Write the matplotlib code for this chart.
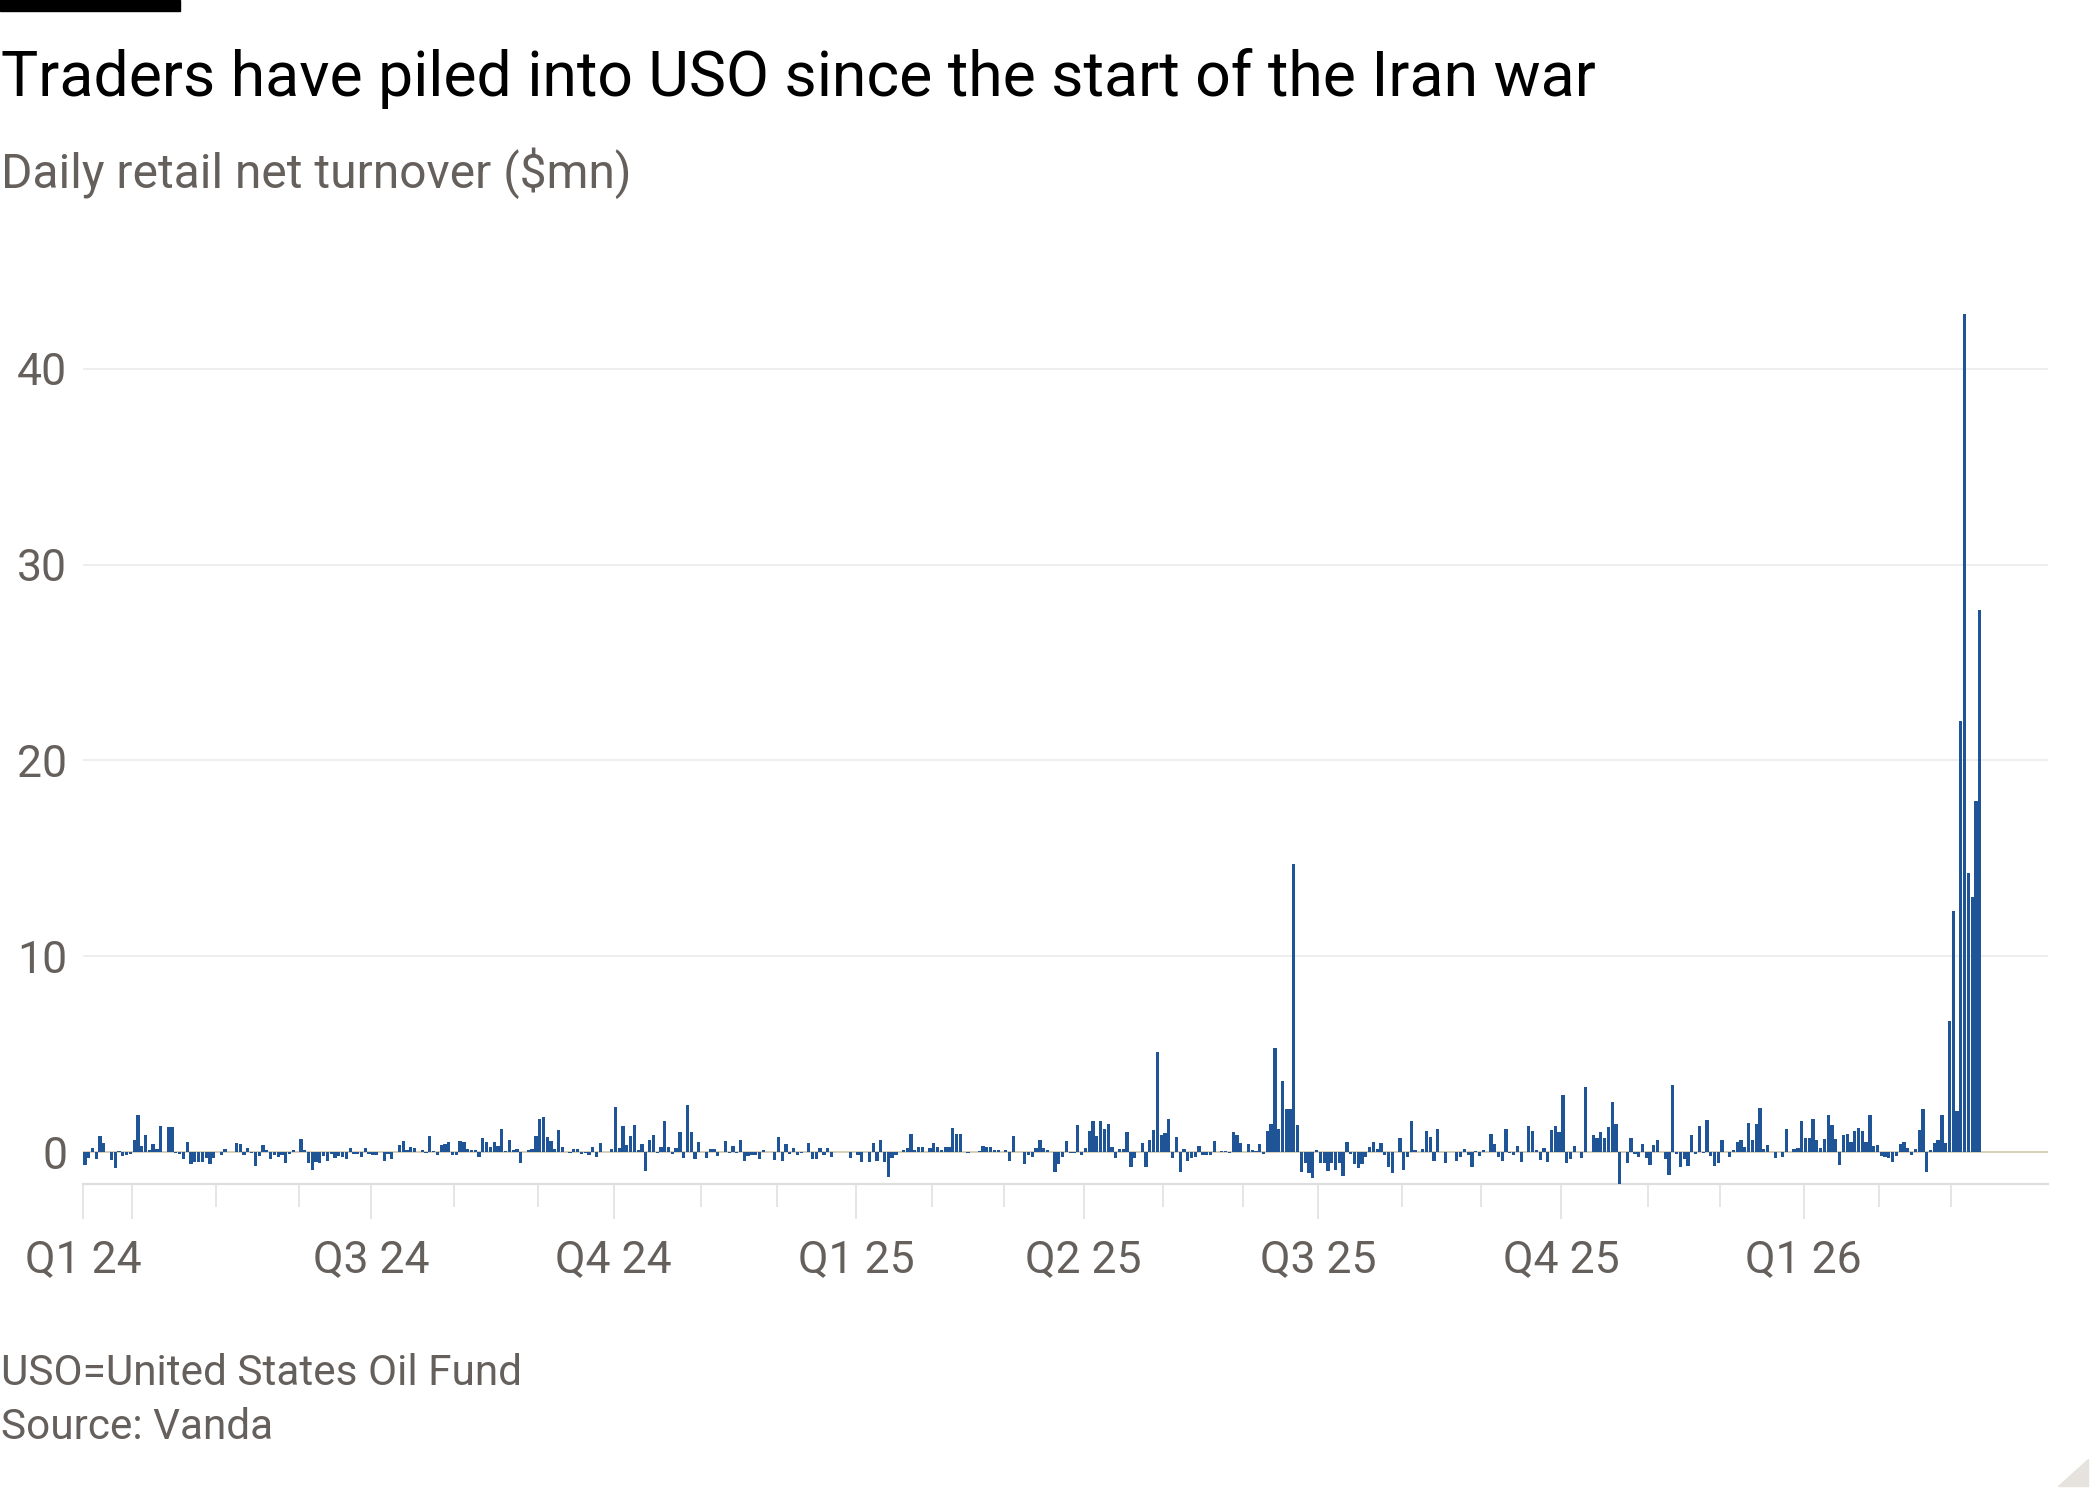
#!/usr/bin/env python
# -*- coding: utf-8 -*-

"""USO daily retail net turnover, FT style bar chart."""

import pandas as pd
import matplotlib
matplotlib.use('Agg')
import matplotlib.pyplot as plt
from matplotlib.patches import Rectangle, Polygon
from matplotlib.transforms import blended_transform_factory

# trading days shown on the chart
START = '2024-03-12'
END = '2026-03-11'
HOLIDAYS = ['2024-03-29', '2024-05-27', '2024-06-19', '2024-07-04',
            '2024-09-02', '2024-11-28', '2024-12-25',
            '2025-01-01', '2025-01-09', '2025-01-20', '2025-02-17',
            '2025-04-18', '2025-05-26', '2025-06-19', '2025-07-04',
            '2025-09-01', '2025-11-27', '2025-12-25',
            '2026-01-01', '2026-01-19', '2026-02-16']

# daily retail net turnover ($mn), one list per quarter
q1_24 = [-0.65, -0.3, 0.2, -0.35, 0.8, 0.45, 0.0, -0.4, -0.8, 0.05, -0.2,
         -0.15, -0.1]
q2_24 = [0.6, 1.9, 0.3, 0.85, 0.1, 0.4, 0.15, 1.35, 0.0, 1.3, 1.3, -0.05,
         -0.1, -0.35, 0.5, -0.6, -0.5, -0.5, -0.5, -0.3, -0.6, -0.3,
         0.0, -0.15, 0.15, 0.0, 0.0, 0.45, 0.4, -0.15, 0.2, -0.05, -0.7,
         -0.2, 0.35, 0.1, -0.35, -0.15, -0.25, -0.15, -0.55, -0.1, 0.1, 0.0,
         0.65, 0.1, -0.55, -0.9, -0.5, -0.55, -0.2, -0.45, -0.1, -0.3, -0.2,
         -0.25, -0.35, 0.2, -0.1, -0.1, -0.25, 0.2, -0.1]
q3_24 = [-0.15, -0.15, 0.0, -0.45, -0.1, -0.35, 0.0, 0.35, 0.55, 0.1, 0.25,
         0.2, 0.0, 0.1, -0.05, 0.8, 0.05, -0.15, 0.35, 0.4, 0.5, -0.15,
         -0.15, 0.55, 0.5, 0.15, 0.1, 0.1, -0.25, 0.7, 0.5, 0.25, 0.5, 0.3,
         1.15, 0.05, 0.6, 0.1, 0.15, -0.55, 0.0, 0.1, 0.15, 0.8,
         1.7, 1.8, 0.75, 0.55, 0.15, 1.1, 0.25, 0.0, -0.05, 0.15, 0.15, -0.1,
         -0.05, -0.15, 0.25, -0.25, 0.45, 0.0, 0.0, 0.15]
q4_24 = [2.3, 0.2, 1.35, 0.35, 0.8, 1.4, 0.1, 0.4, -0.95, 0.6, 0.85, -0.05,
         0.25, 1.6, 0.25, -0.1, 0.2, 1.0, -0.3, 2.4, 1.0, -0.35, 0.5,
         0.0, -0.3, 0.15, 0.15, -0.2, 0.0, 0.55, -0.05, 0.3, -0.05, 0.6,
         -0.45, -0.2, -0.15, -0.15, -0.35, 0.1, 0.0, 0.0, -0.4,
         0.75, -0.45, 0.4, -0.1, 0.2, -0.15, -0.05, 0.0, 0.45, -0.35, -0.35,
         0.2, -0.15, 0.2, -0.25, 0.0, 0.0, 0.0, 0.0, -0.3, 0.0]
q1_25 = [-0.15, -0.5, 0.0, -0.5, 0.45, -0.45, 0.6, -0.5, -1.3, -0.3, -0.15,
         0.0, 0.1, 0.2, 0.9, 0.1, 0.25, 0.25, 0.0, 0.2,
         0.45, 0.25, 0.1, 0.25, 0.25, 1.25, 0.9, 0.9, 0.0, -0.05, 0.0, 0.0,
         0.05, 0.3, 0.25, 0.25, 0.1, 0.1, 0.0,
         0.1, -0.45, 0.8, 0.0, 0.0, -0.6, -0.15, -0.25, 0.2, 0.6, 0.2, 0.1,
         0.0, -1.0, -0.6, -0.25, 0.55, -0.05, -0.05, 1.4, -0.15]
q2_25 = [0.2, 1.05, 1.6, 0.8, 1.6, 1.2, 1.45, 0.25, -0.3, 0.15, 0.15, 1.0,
         -0.75, -0.3, 0.0, 0.45, -0.75, 0.6, 1.1, 5.1, 0.85,
         0.95, 1.7, -0.3, 0.75, -1.0, 0.15, -0.45, -0.3, -0.25, 0.3, -0.15,
         -0.15, -0.15, 0.55, 0.0, 0.05, 0.05, -0.05, 1.0, 0.85, 0.45,
         0.0, 0.4, 0.1, 0.05, 0.4, -0.1, 1.05, 1.45, 5.3, 1.2, 3.65, 2.2, 2.2,
         14.7, 1.4, -1.0, -0.55, -1.05, -1.35, 0.1]
q3_25 = [-0.55, -0.55, -0.95, -0.55, -0.9, -0.55, -1.25, 0.5, -0.1, -0.6,
         -0.8, -0.6, -0.25, 0.25, 0.5, 0.15, 0.45, -0.15, -0.75, -1.05, 0.0,
         0.7,
         -0.9, -0.25, 1.6, 0.1, 0.0, 0.15, 1.05, 0.75, -0.45, 1.15, 0.0,
         -0.55, 0.0, 0.0, -0.45, -0.25, 0.15, -0.15, -0.75, 0.05, -0.2,
         0.1, 0.0, 0.9, 0.4, -0.25, -0.45, 1.15, -0.05, -0.15, 0.3, -0.5, 0.0,
         1.35, 1.05, 0.1, -0.4, 0.2, -0.5, 1.1, 1.35, 1.0]
q4_25 = [2.9, -0.55, -0.35, 0.3, 0.0, -0.3, 3.3, 0.0, 0.85, 0.7, 1.0, 0.7,
         1.3, 2.55, 1.45, -1.65, 0.0, -0.55, 0.7, -0.1, -0.25, 0.4, -0.3,
         -0.65, 0.35, 0.6, 0.0, -0.35, -1.15, 3.4, -0.1, -0.75, -0.35, -0.7,
         0.85, -0.1, 1.35, -0.05, 1.65, -0.2, -0.7, -0.55,
         0.6, 0.0, -0.25, 0.1, 0.5, 0.6, 0.25, 1.5, 0.6, 1.45, 2.25, 0.15,
         0.35, 0.0, -0.3, 0.0, -0.25, 1.2, 0.0, 0.15, 0.2, 1.6]
q1_26 = [0.7, 0.7, 1.7, 0.6, 0.2, 0.65, 1.9, 1.4, 0.65, -0.65, 0.85, 0.9,
         0.5, 1.05, 1.25, 1.05, 0.5, 1.9, 0.3, 0.35,
         -0.2, -0.25, -0.3, -0.5, -0.2, 0.4, 0.5, 0.2, -0.15, 0.15, 1.1, 2.2,
         -1.0, 0.1, 0.45, 0.6, 1.9, 0.45, 6.7,
         12.3, 2.1, 22.0, 42.8, 14.25, 13.0, 17.9, 27.7]

y_ticks = [0, 10, 20, 30, 40]
quarter_labels = ['Q1 24', '', 'Q3 24', 'Q4 24', 'Q1 25', 'Q2 25',
                  'Q3 25', 'Q4 25', 'Q1 26']

TITLE = 'Traders have piled into USO since the start of the Iran war'
SUBTITLE = 'Daily retail net turnover (\\$mn)'
NOTES = ['USO=United States Oil Fund', 'Source: Vanda']

BAR = '#1f5597'
GREY = '#66605c'
LIGHT = '#dedede'


def main():
    plt.rcParams['font.family'] = ['Roboto', 'DejaVu Sans']

    dates = pd.bdate_range(START, END, freq='C', holidays=HOLIDAYS)
    values = (q1_24 + q2_24 + q3_24 + q4_24 + q1_25 + q2_25 + q3_25
              + q4_25 + q1_26)
    n = min(len(dates), len(values))
    dates = dates[:n]
    values = values[:n]
    x = list(range(n))

    # first trading day of every month, quarter starts get long ticks
    month_starts = [i for i in range(n)
                    if i == 0 or dates[i].month != dates[i - 1].month]
    quarter_starts = [i for i in month_starts
                      if i == 0 or dates[i].month in (1, 4, 7, 10)]
    minor = [i for i in month_starts if i not in quarter_starts]

    fig = plt.figure(figsize=(21, 15), dpi=100)
    ax = fig.add_axes([83 / 2100, 1 - 1184 / 1500,
                       (2048 - 83) / 2100, (1184 - 306) / 1500])

    for v in y_ticks[1:]:
        ax.axhline(v, color='#ededed', lw=1.3, zorder=1)
    ax.axhline(0, color='#cfc2a4', lw=1.1, zorder=2)

    ax.bar(x, values, width=0.86, color=BAR, linewidth=0, zorder=3)

    ax.set_xlim(-0.5, 518)
    ax.set_ylim(-1.634, 43.2)

    for side in ('top', 'right', 'left'):
        ax.spines[side].set_visible(False)
    ax.spines['bottom'].set_color(LIGHT)
    ax.spines['bottom'].set_linewidth(1.6)

    ax.set_yticks(y_ticks)
    ax.set_yticklabels([str(v) for v in y_ticks])
    ax.tick_params(axis='y', length=0, pad=11.5, labelsize=32,
                   labelcolor=GREY)

    ax.set_xticks([i - 0.5 for i in quarter_starts])
    ax.set_xticks([i - 0.5 for i in minor], minor=True)
    ax.tick_params(axis='x', which='major', length=25, width=1.1,
                   color=LIGHT, labelbottom=False)
    ax.tick_params(axis='x', which='minor', length=16.5, width=1.1,
                   color=LIGHT, labelbottom=False)

    trans = blended_transform_factory(ax.transData, fig.transFigure)
    for i, lab in zip(quarter_starts, quarter_labels):
        if lab:
            ax.text(i - 0.5, 0.152, lab, transform=trans, ha='center',
                    va='baseline', fontsize=32, color=GREY, clip_on=False)

    fig.text(0.0005, 0.9357, TITLE, fontsize=45, color='#000000',
             va='baseline')
    fig.text(0.0005, 0.8749, SUBTITLE, fontsize=34.5, color=GREY,
             va='baseline')
    fig.text(0.0005, 0.0767, NOTES[0], fontsize=30.4, color=GREY,
             va='baseline')
    fig.text(0.0005, 0.0407, NOTES[1], fontsize=30.4, color=GREY,
             va='baseline')

    fig.patches.append(Rectangle((0, 1 - 11 / 1500), 180 / 2100, 11 / 1500,
                                 transform=fig.transFigure, color='black'))
    fig.patches.append(Polygon([(2058 / 2100, 1 - 1486 / 1500),
                                (2088 / 2100, 1 - 1486 / 1500),
                                (2088 / 2100, 1 - 1459 / 1500)],
                               transform=fig.transFigure, color='#e6e2dd'))

    fig.savefig('out.png', dpi=100)


if __name__ == '__main__':
    main()
